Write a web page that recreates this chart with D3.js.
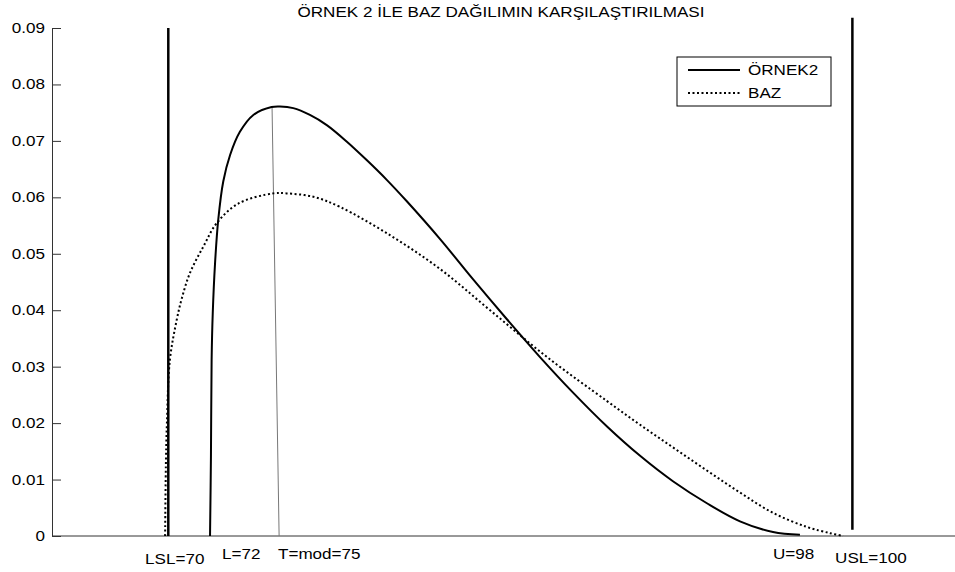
<!DOCTYPE html>
<html>
<head>
<meta charset="utf-8">
<script src="https://cdn.jsdelivr.net/npm/d3@7"></script>
<style>
  body { margin: 0; background: #fff; }
  text { font-family: "Liberation Sans", Arial, sans-serif; fill: #000; }
</style>
</head>
<body>
<div id="chart"></div>
<script>
// ---- data ----
const ornekX = [71.83, 71.87, 71.9, 71.95, 72.05, 72.19, 72.41, 72.71, 73.14, 73.73, 74.53, 74.9, 75.48, 76.21,
    76.95, 77.82, 78.7, 79.58, 80.46, 81.92, 83.36, 84.85, 86.3, 87.75, 89.24, 90.69, 92.13, 93.62, 95.07, 96.52, 97.7];
const ornekY = [0, 0.014, 0.0312, 0.0395, 0.0483, 0.056, 0.0628, 0.0675, 0.0716, 0.0746, 0.076, 0.0761, 0.0758, 0.0746,
    0.0728, 0.0699, 0.0666, 0.0631, 0.0593, 0.0526, 0.0455, 0.0384, 0.0317, 0.0254, 0.0194, 0.0142, 0.0097, 0.0058,
    0.0026, 0.0007, 0.0002];

const bazX = [69.86, 69.9, 69.94, 70.07, 70.37, 70.6, 70.95, 71.54, 72.12, 73.07, 74.6, 75.19, 76.36, 77.53, 79.72,
    81.92, 84.11, 86.61, 89.24, 90.69, 92.13, 93.62, 95.07, 96.52, 98.01, 99.02, 99.59];
const bazY = [0, 0.014, 0.02, 0.0312, 0.0383, 0.0422, 0.0466, 0.0513, 0.0554, 0.0589, 0.0607, 0.0607, 0.0601, 0.0583,
    0.0533, 0.0473, 0.04, 0.0317, 0.0239, 0.0197, 0.0157, 0.0116, 0.0077, 0.0041, 0.0016, 0.0005, 0];

// spec limit lines (LSL, USL) and the mode line
const specX = [70, 100];
const specYFrom = [0, 0.0011];
const specYTo = [0.09, 0.0918];
const modeX = [74.55, 74.86];
const modeY = [0.076, 0];

const yTicks = [0, 0.01, 0.02, 0.03, 0.04, 0.05, 0.06, 0.07, 0.08, 0.09];
const yTickLabels = ["0", "0.01", "0.02", "0.03", "0.04", "0.05", "0.06", "0.07", "0.08", "0.09"];

const markLabels = ["LSL=70", "L=72", "T=mod=75", "U=98", "USL=100"];
const markLabelX = [68.98, 72.36, 74.81, 96.52, 99.24];
const markLabelY = [-0.005, -0.0041, -0.0041, -0.0041, -0.0048];

const legendNames = ["ÖRNEK2", "BAZ"];
const title = "ÖRNEK 2 İLE BAZ DAĞILIMIN KARŞILAŞTIRILMASI";

// ---- layout ----
const WIDTH = 955, HEIGHT = 572;
const PLOT = { LEFT: 52, RIGHT: 955, TOP: 28, BOTTOM: 536 };
const STRETCH = 1.22;   // the reference text is a bit wide
const FONT = "14px";

const svg = d3.select("#chart").append("svg")
    .attr("width", WIDTH)
    .attr("height", HEIGHT);

const xScale = d3.scaleLinear().domain([64.9, 104.5]).range([PLOT.LEFT, PLOT.RIGHT]);
const yScale = d3.scaleLinear().domain([0, 0.09]).range([PLOT.BOTTOM, PLOT.TOP]);

function wideText(g, x, y, str, anchor) {
    return g.append("text")
        .attr("transform", `translate(${x},${y}) scale(${STRETCH},1)`)
        .attr("text-anchor", anchor || "start")
        .style("font-size", FONT)
        .text(str);
}

// Axes
svg.append("line")
    .attr("x1", PLOT.LEFT).attr("x2", PLOT.RIGHT)
    .attr("y1", PLOT.BOTTOM).attr("y2", PLOT.BOTTOM)
    .attr("stroke", "#333").attr("stroke-width", 1);

const yAxis = d3.axisLeft(yScale)
    .tickValues(yTicks)
    .tickFormat((d, i) => yTickLabels[i])
    .tickSizeInner(-9)
    .tickSizeOuter(0)
    .tickPadding(7);

const yG = svg.append("g")
    .attr("transform", `translate(${PLOT.LEFT},0)`)
    .call(yAxis);
yG.select(".domain").attr("stroke", "#333");
yG.selectAll(".tick line").attr("stroke", "#333");
yG.selectAll("text")
    .attr("x", -7 / STRETCH)
    .attr("transform", `scale(${STRETCH},1)`)
    .style("font-size", FONT)
    .style("font-family", "'Liberation Sans', Arial, sans-serif");

// Spec limit lines
specX.forEach((x, i) => {
    svg.append("line")
        .attr("x1", xScale(x)).attr("x2", xScale(x))
        .attr("y1", yScale(specYFrom[i])).attr("y2", yScale(specYTo[i]))
        .attr("stroke", "#000").attr("stroke-width", 2.5);
});

// Mode line
svg.append("line")
    .attr("x1", xScale(modeX[0])).attr("x2", xScale(modeX[1]))
    .attr("y1", yScale(modeY[0])).attr("y2", yScale(modeY[1]))
    .attr("stroke", "#777").attr("stroke-width", 1);

// Curves
const line = d3.line()
    .x(d => xScale(d[0]))
    .y(d => yScale(d[1]))
    .curve(d3.curveCatmullRom.alpha(0.5));

svg.append("path")
    .datum(bazX.map((x, i) => [x, bazY[i]]))
    .attr("fill", "none")
    .attr("stroke", "#000")
    .attr("stroke-width", 2)
    .attr("stroke-dasharray", "2,2.5")
    .attr("d", line);

svg.append("path")
    .datum(ornekX.map((x, i) => [x, ornekY[i]]))
    .attr("fill", "none")
    .attr("stroke", "#000")
    .attr("stroke-width", 2)
    .attr("d", line);

// Labels under the axis
markLabels.forEach((t, i) => {
    wideText(svg, xScale(markLabelX[i]), yScale(markLabelY[i]), t);
});

// Title
wideText(svg, 501, 17, title, "middle");

// Legend
const LEG = { X: 677, Y: 57, W: 154, H: 49 };
const legend = svg.append("g");
legend.append("rect")
    .attr("x", LEG.X).attr("y", LEG.Y)
    .attr("width", LEG.W).attr("height", LEG.H)
    .attr("fill", "#fff").attr("stroke", "#000").attr("stroke-width", 1);
legendNames.forEach((name, i) => {
    const y = LEG.Y + 13 + i * 23;
    legend.append("line")
        .attr("x1", LEG.X + 11).attr("x2", LEG.X + 63)
        .attr("y1", y).attr("y2", y)
        .attr("stroke", "#000")
        .attr("stroke-width", 2)
        .attr("stroke-dasharray", i === 1 ? "2,2.5" : null);
    wideText(legend, LEG.X + 71, y + 5, name);
});
</script>
</body>
</html>
